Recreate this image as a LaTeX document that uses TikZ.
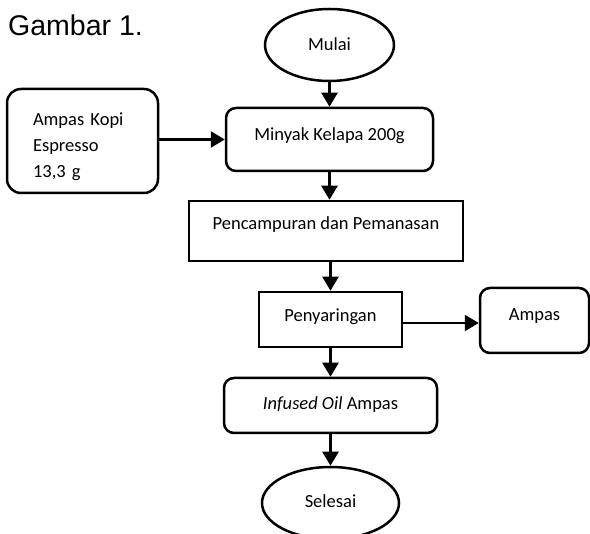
\documentclass[tikz,border=0pt]{standalone}
\usepackage{fontspec}
\setmainfont{Carlito}
\newfontfamily\headfont{Liberation Sans}
\usetikzlibrary{arrows.meta,shapes.geometric}

\begin{document}
\begin{tikzpicture}[x=1pt,y=-1pt,
  every node/.style={font=\fontsize{18.5}{26}\selectfont},
  proc/.style={draw,line width=2.5pt,text height=13pt},
  rbox/.style={draw,line width=2.5pt,rounded corners=10pt},
  term/.style={draw,ellipse,line width=2.5pt,text height=13pt},
  arr/.style={line width=2.5pt,-{Triangle[length=14pt,width=16pt]}}]
  \clip (0,0) rectangle (590,534);
  \node[font=\headfont\fontsize{28.5}{30}\selectfont,anchor=base west,inner sep=0pt] (judul) at (8,36) {Gambar 1.};
  \node[term,minimum width=129pt,minimum height=72pt,text depth=1pt] (mulai) at (329.5,45) {Mulai};
  \node[rbox,rounded corners=14pt,minimum width=151pt,minimum height=104pt,text width=99pt,inner xsep=26pt,align=left,text height=24pt] (kopi) at (82.5,141) {Ampas Kopi\\Espresso\\13,3 g};
  \node[rbox,minimum width=207pt,minimum height=63pt,text height=13pt,text depth=10pt] (minyak) at (329.5,139.5) {Minyak Kelapa 200g};
  \node[proc,minimum width=274pt,minimum height=60pt,text depth=15pt] (campur) at (326,231) {Pencampuran dan Pemanasan};
  \node[proc,minimum width=143pt,minimum height=55pt,text depth=8pt] (saring) at (330.5,319.5) {Penyaringan};
  \node[rbox,minimum width=109pt,minimum height=65pt,text height=13pt,text depth=12pt] (ampas) at (534.5,320.5) {Ampas};
  \node[rbox,minimum width=213pt,minimum height=55pt,text height=13pt,text depth=4pt] (oil) at (330.5,405.5) {\textit{Infused Oil} Ampas};
  \node[term,minimum width=137pt,minimum height=72pt,text depth=3pt] (selesai) at (330.5,503) {Selesai};
  \draw[arr] (mulai.south) -- (minyak.north);
  \draw[arr] (kopi.east |- minyak.west) -- (minyak.west);
  \draw[arr] (minyak.south) -- (minyak.south |- campur.north);
  \draw[arr] (saring.north |- campur.south) -- (saring.north);
  \draw[arr] (saring.east |- 0,323) -- (ampas.west |- 0,323);
  \draw[arr] (saring.south) -- (oil.north);
  \draw[arr] (oil.south) -- (selesai.north);
\end{tikzpicture}
\end{document}
